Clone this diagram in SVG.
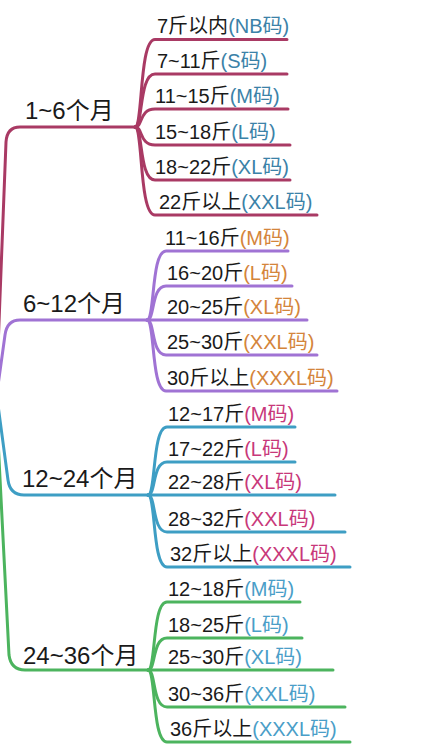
<svg xmlns="http://www.w3.org/2000/svg" width="446" height="751" viewBox="0 0 446 751">
<style>
.ln{fill:none;stroke-width:3;stroke-linecap:round;stroke-linejoin:round}
.g1{stroke:#a93a64}.g2{stroke:#a073d4}.g3{stroke:#3e9ec4}.g4{stroke:#4cb45e}
text{font-family:"Liberation Sans","Noto Sans CJK SC",sans-serif;fill:#1a1a1a}
.main{font-size:24px}
.sub{font-size:20px}
.c1{fill:#3b82a8}.c2{fill:#d4853b}.c3{fill:#c8387a}.c4{fill:#4a9ec8}
</style>
<rect width="446" height="751" fill="#ffffff"/>
<g id="connectors">
<path class="ln g1" d="M-4,400 L6,142 Q7,127 20,127 L135,127"/>
<path class="ln g2" d="M-4,400 L5,335 Q7,320 20,320 L147,320"/>
<path class="ln g3" d="M-4,390 L8,480 Q10,495 24,495 L148,495"/>
<path class="ln g4" d="M-4,400 L9,655 Q11,670 25,670 L148,670"/>
<g class="g1">
<path class="ln" d="M135,127 C143,127 139,39.5 155,39.5 L287,39.5"/>
<path class="ln" d="M135,127 C143,127 139,74 155,74 L287,74"/>
<path class="ln" d="M135,127 C143,127 139,109 155,109 L288,109"/>
<path class="ln" d="M135,127 C143,127 139,145 155,145 L290,145"/>
<path class="ln" d="M135,127 C143,127 139,180 155,180 L290,180"/>
<path class="ln" d="M135,127 C143,127 139,215 155,215 L317,215"/>
</g>
<g class="g2">
<path class="ln" d="M147,320 C155,320 151,251 166,251 L288,251"/>
<path class="ln" d="M147,320 C155,320 151,286 166,286 L292,286"/>
<path class="ln" d="M147,320 L307,320"/>
<path class="ln" d="M147,320 C155,320 151,355 166,355 L317,355"/>
<path class="ln" d="M147,320 C155,320 151,391 166,391 L337,391"/>
</g>
<g class="g3">
<path class="ln" d="M148,495 C156,495 152,427 167,427 L295,427"/>
<path class="ln" d="M148,495 C156,495 152,462 167,462 L295,462"/>
<path class="ln" d="M148,495 L335,495"/>
<path class="ln" d="M148,495 C156,495 152,532 167,532 L345,532"/>
<path class="ln" d="M148,495 C156,495 152,567 167,567 L350,567"/>
</g>
<g class="g4">
<path class="ln" d="M148,670 C156,670 152,602 167,602 L300,602"/>
<path class="ln" d="M148,670 C156,670 152,638 167,638 L302,638"/>
<path class="ln" d="M148,670 L333,670"/>
<path class="ln" d="M148,670 C156,670 152,707 167,707 L345,707"/>
<path class="ln" d="M148,670 C156,670 152,742 167,742 L350,742"/>
</g>
</g>
<g id="n1"><text class="main" x="25" y="119">1~6个月</text></g>
<g id="n1a"><text class="sub" x="157" y="33">7斤以内<tspan class="c1">(NB码)</tspan></text></g>
<g id="n1b"><text class="sub" x="157" y="68">7~11斤<tspan class="c1">(S码)</tspan></text></g>
<g id="n1c"><text class="sub" x="155" y="103">11~15斤<tspan class="c1">(M码)</tspan></text></g>
<g id="n1d"><text class="sub" x="155" y="139">15~18斤<tspan class="c1">(L码)</tspan></text></g>
<g id="n1e"><text class="sub" x="155" y="174">18~22斤<tspan class="c1">(XL码)</tspan></text></g>
<g id="n1f"><text class="sub" x="159" y="209">22斤以上<tspan class="c1">(XXL码)</tspan></text></g>
<g id="n2"><text class="main" x="23" y="312">6~12个月</text></g>
<g id="n2a"><text class="sub" x="165" y="245">11~16斤<tspan class="c2">(M码)</tspan></text></g>
<g id="n2b"><text class="sub" x="167" y="280">16~20斤<tspan class="c2">(L码)</tspan></text></g>
<g id="n2c"><text class="sub" x="167" y="314">20~25斤<tspan class="c2">(XL码)</tspan></text></g>
<g id="n2d"><text class="sub" x="167" y="349">25~30斤<tspan class="c2">(XXL码)</tspan></text></g>
<g id="n2e"><text class="sub" x="167" y="385">30斤以上<tspan class="c2">(XXXL码)</tspan></text></g>
<g id="n3"><text class="main" x="22" y="487">12~24个月</text></g>
<g id="n3a"><text class="sub" x="168" y="421">12~17斤<tspan class="c3">(M码)</tspan></text></g>
<g id="n3b"><text class="sub" x="168" y="456">17~22斤<tspan class="c3">(L码)</tspan></text></g>
<g id="n3c"><text class="sub" x="168" y="489">22~28斤<tspan class="c3">(XL码)</tspan></text></g>
<g id="n3d"><text class="sub" x="168" y="526">28~32斤<tspan class="c3">(XXL码)</tspan></text></g>
<g id="n3e"><text class="sub" x="170" y="561">32斤以上<tspan class="c3">(XXXL码)</tspan></text></g>
<g id="n4"><text class="main" x="23" y="664">24~36个月</text></g>
<g id="n4a"><text class="sub" x="168" y="596">12~18斤<tspan class="c4">(M码)</tspan></text></g>
<g id="n4b"><text class="sub" x="168" y="632">18~25斤<tspan class="c4">(L码)</tspan></text></g>
<g id="n4c"><text class="sub" x="168" y="664">25~30斤<tspan class="c4">(XL码)</tspan></text></g>
<g id="n4d"><text class="sub" x="168" y="701">30~36斤<tspan class="c4">(XXL码)</tspan></text></g>
<g id="n4e"><text class="sub" x="170" y="736">36斤以上<tspan class="c4">(XXXL码)</tspan></text></g>
</svg>
